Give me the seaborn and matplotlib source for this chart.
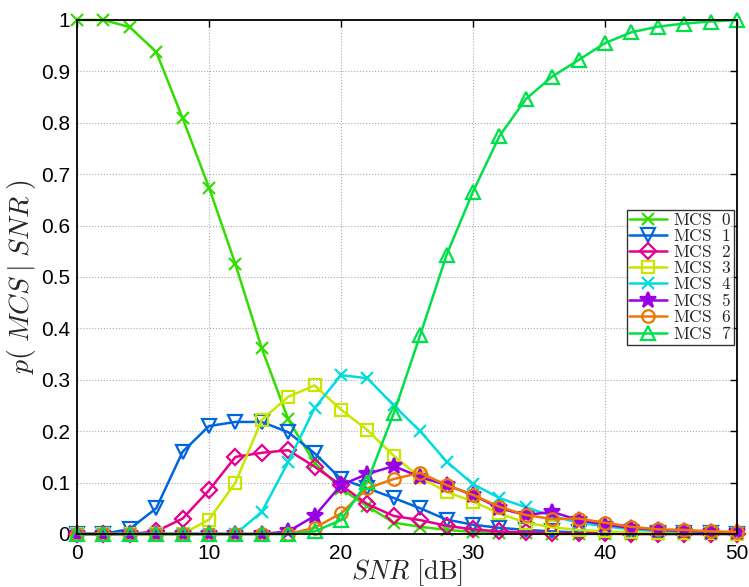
import numpy as np
import pandas as pd
import matplotlib
matplotlib.use("Agg")
import matplotlib.pyplot as plt
import seaborn as sns

# SNR grid (dB) and p(MCS | SNR)
snr = [0, 2, 4, 6, 8, 10, 12, 14, 16, 18, 20, 22, 24, 26, 28, 30, 32, 34, 36, 38, 40, 42, 44, 46, 48, 50]

mcs0 = [1.0, 1.0, 0.986, 0.938, 0.809, 0.674, 0.525, 0.361, 0.223, 0.138, 0.088, 0.054, 0.022, 0.014, 0.008, 0.004,
        0.002, 0.001, 0.0, 0.0, 0.0, 0.0, 0.0, 0.0, 0.0, 0.0]
mcs1 = [0.0, 0.0, 0.01, 0.05, 0.16, 0.21, 0.218, 0.218, 0.198, 0.157, 0.107, 0.089, 0.07, 0.05, 0.028, 0.018,
        0.012, 0.008, 0.005, 0.003, 0.002, 0.001, 0.001, 0.001, 0.001, 0.0]
mcs2 = [0.0, 0.0, 0.0, 0.005, 0.03, 0.085, 0.15, 0.158, 0.163, 0.131, 0.095, 0.058, 0.035, 0.027, 0.016, 0.009,
        0.005, 0.003, 0.002, 0.001, 0.001, 0.0, 0.0, 0.0, 0.0, 0.0]
mcs3 = [0.0, 0.0, 0.0, 0.0, 0.0, 0.028, 0.1, 0.222, 0.267, 0.289, 0.242, 0.202, 0.152, 0.11, 0.082, 0.063,
        0.04, 0.022, 0.013, 0.008, 0.005, 0.003, 0.002, 0.001, 0.001, 0.0]
mcs4 = [0.0, 0.0, 0.0, 0.0, 0.0, 0.0, 0.0, 0.043, 0.14, 0.245, 0.309, 0.303, 0.25, 0.2, 0.141, 0.097,
        0.07, 0.052, 0.035, 0.022, 0.015, 0.009, 0.006, 0.004, 0.002, 0.001]
mcs5 = [0.0, 0.0, 0.0, 0.0, 0.0, 0.0, 0.0, 0.0, 0.005, 0.035, 0.095, 0.117, 0.132, 0.111, 0.095, 0.076,
        0.05, 0.037, 0.043, 0.027, 0.018, 0.012, 0.008, 0.006, 0.004, 0.003]
mcs6 = [0.0, 0.0, 0.0, 0.0, 0.0, 0.0, 0.0, 0.0, 0.0, 0.012, 0.04, 0.089, 0.107, 0.119, 0.095, 0.076,
        0.053, 0.037, 0.029, 0.03, 0.022, 0.014, 0.009, 0.008, 0.005, 0.004]
mcs7 = [0.0, 0.0, 0.0, 0.0, 0.0, 0.0, 0.0, 0.0, 0.0, 0.005, 0.027, 0.102, 0.235, 0.387, 0.543, 0.666,
        0.774, 0.846, 0.89, 0.922, 0.955, 0.976, 0.987, 0.993, 0.997, 1.0]

series = [mcs0, mcs1, mcs2, mcs3, mcs4, mcs5, mcs6, mcs7]
labels = [r"$\mathrm{MCS\ \ %d}$" % i for i in range(8)]
colors = ["#33dd00", "#0066dd", "#e6008c", "#c8e600", "#00dddd", "#9900e6", "#ee7700", "#00e04a"]
markers = ["x", "v", "D", "s", "x", "*", "o", "^"]
msizes = [8, 10, 8, 8, 8, 12, 9, 10]

xticks = [0, 10, 20, 30, 40, 50]
yticks = [0, 0.1, 0.2, 0.3, 0.4, 0.5, 0.6, 0.7, 0.8, 0.9, 1]
yticklabels = ["0", "0.1", "0.2", "0.3", "0.4", "0.5", "0.6", "0.7", "0.8", "0.9", "1"]

sns.set_style("white")
plt.rcParams["font.family"] = ["Liberation Sans", "DejaVu Sans"]
plt.rcParams["mathtext.fontset"] = "cm"

fig = plt.figure(figsize=(7.49, 5.87), dpi=100)
ax = fig.add_axes([0.1028, 0.0903, 0.8812, 0.8757])

for vals, lab, col, mk, ms in zip(series, labels, colors, markers, msizes):
    filled = mk == "*"
    sns.lineplot(x=snr, y=vals, ax=ax, label=lab, color=col, marker=mk, markersize=ms,
                 markerfacecolor=col if filled else "none", markeredgecolor=col,
                 markeredgewidth=1.6, linewidth=1.8, clip_on=False)

ax.set_xlim(0, 50)
ax.set_ylim(0, 1)
ax.set_xticks(xticks)
ax.set_yticks(yticks)
ax.set_yticklabels(yticklabels)
ax.tick_params(direction="in", top=True, right=True, length=5, width=1, labelsize=15, colors="black")
ax.tick_params(axis="x", pad=7)
ax.tick_params(axis="y", pad=5)
ax.grid(True, linestyle=":", color="#aaaaaa", linewidth=0.8)
for sp in ax.spines.values():
    sp.set_visible(True)
    sp.set_color("black")
    sp.set_linewidth(1.3)

ax.set_xlabel(r"$SNR\ [\mathrm{dB}]$", fontsize=19, labelpad=-4)
ax.set_ylabel(r"$p(\;MCS\;|\;SNR\;)$", fontsize=20, labelpad=2)

leg = ax.legend(loc="center right", bbox_to_anchor=(0.995, 0.499), fontsize=12.5, frameon=True, fancybox=False,
                labelspacing=0.0, handlelength=2.2, handletextpad=0.3, borderpad=0.15, borderaxespad=0.0)
leg.get_frame().set_edgecolor("black")
leg.get_frame().set_linewidth(1.0)

fig.savefig("out.png", dpi=100)
